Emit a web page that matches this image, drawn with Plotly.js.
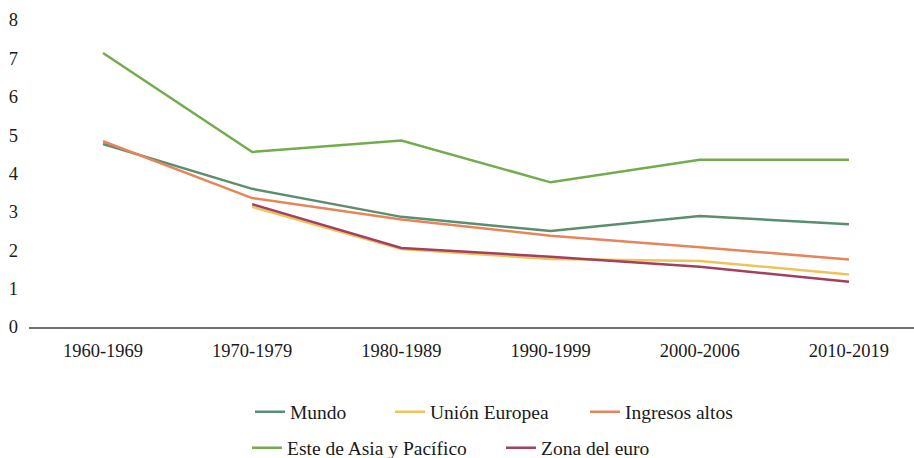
<!DOCTYPE html>
<html>
<head>
<meta charset="utf-8">
<script src="https://cdn.plot.ly/plotly-3.0.1.min.js"></script>
<style>html,body{margin:0;padding:0;background:#fff;}#chart{width:914px;height:458px;}</style>
</head>
<body>
<div id="chart"></div>
<script>
const categories = ["1960-1969", "1970-1979", "1980-1989", "1990-1999", "2000-2006", "2010-2019"];
const mundo = [4.77, 3.6, 2.87, 2.5, 2.89, 2.68];
const unionEuropea = [null, 3.13, 2.03, 1.77, 1.72, 1.37];
const ingresosAltos = [4.84, 3.36, 2.8, 2.38, 2.08, 1.76];
const esteAsia = [7.14, 4.56, 4.86, 3.77, 4.36, 4.36];
const zonaEuro = [null, 3.2, 2.06, 1.83, 1.57, 1.18];
const seriesNames = ["Mundo", "Unión Europea", "Ingresos altos", "Este de Asia y Pacífico", "Zona del euro"];
const seriesColors = ["#5A8E6E", "#EFC35B", "#E8845A", "#72AC4D", "#A1405F"];
const yTicks = [0, 1, 2, 3, 4, 5, 6, 7, 8];

const seriesData = [mundo, unionEuropea, ingresosAltos, esteAsia, zonaEuro];
const legendIds = ["legend", "legend2", "legend3", "legend4", "legend5"];
const traces = seriesData.map((vals, i) => ({
  type: "scatter", mode: "lines", x: categories, y: vals, name: seriesNames[i],
  line: {color: seriesColors[i], width: 2.5}, connectgaps: false,
  legend: legendIds[i]
}));
const FONT = "Liberation Serif, DejaVu Serif, serif";
const legendPos = [[250, 412], [390, 412], [585, 412], [247, 448], [501, 448]];
const layout = {
  width: 914, height: 458,
  margin: {l: 29, r: 0, t: 20, b: 131},
  paper_bgcolor: "#fff", plot_bgcolor: "#fff",
  font: {family: FONT, size: 18.5, color: "#1a1a1a"},
  showlegend: true,
  xaxis: {type: "category", range: [-0.496, 5.436], showgrid: false, zeroline: false,
    showline: true, linecolor: "#707070", linewidth: 1.5, ticks: "", ticklabelstandoff: 6,
    tickfont: {family: FONT, size: 18.5, color: "#1a1a1a"}},
  yaxis: {range: [0, 8], tickvals: yTicks, showgrid: false, zeroline: false, showline: false,
    ticks: "", ticklabelstandoff: 10, tickfont: {family: FONT, size: 18.5, color: "#1a1a1a"}}
};
legendIds.forEach((id, i) => {
  layout[id] = {
    xref: "container", yref: "container",
    x: legendPos[i][0] / 914, y: 1 - legendPos[i][1] / 458,
    xanchor: "left", yanchor: "middle",
    orientation: "h", bgcolor: "rgba(0,0,0,0)", borderwidth: 0,
    font: {family: FONT, size: 19.5, color: "#1a1a1a"}
  };
});
Plotly.newPlot("chart", traces, layout, {staticPlot: true});
</script>
</body>
</html>
